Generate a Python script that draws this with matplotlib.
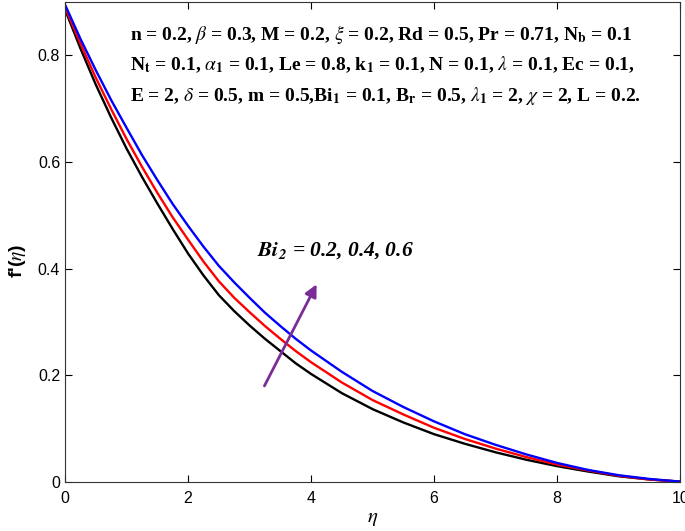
import matplotlib
matplotlib.use('Agg')
import matplotlib.pyplot as plt

# Values
eta = [0, 0.25, 0.5, 0.75, 1, 1.25, 1.5, 1.75, 2, 2.25, 2.5, 2.75, 3, 3.25, 3.5, 3.75, 4,
       4.5, 5, 5.5, 6, 6.5, 7, 7.5, 8, 8.5, 9, 9.5, 10]
f_bi02 = [0.886, 0.813, 0.745, 0.683, 0.625, 0.572, 0.522, 0.474, 0.428, 0.387, 0.350,
          0.320, 0.293, 0.268, 0.245, 0.222, 0.202, 0.166, 0.136,
          0.111, 0.089, 0.071, 0.055, 0.041, 0.029, 0.019, 0.010, 0.004, 0.0]
f_bi04 = [0.890, 0.822, 0.758, 0.699, 0.643, 0.591, 0.542, 0.496, 0.454, 0.413, 0.376,
          0.345, 0.318, 0.292, 0.268, 0.245, 0.224, 0.186, 0.153,
          0.126, 0.101, 0.080, 0.062, 0.046, 0.032, 0.021, 0.011, 0.004, 0.0]
f_bi06 = [0.895, 0.831, 0.772, 0.716, 0.664, 0.613, 0.566, 0.521, 0.480, 0.441, 0.405,
          0.374, 0.345, 0.317, 0.292, 0.268, 0.246, 0.206, 0.170,
          0.140, 0.113, 0.089, 0.069, 0.051, 0.035, 0.022, 0.012, 0.005, 0.0]

param_lines = [
    r'n = 0.2, $\beta$ = 0.3, M = 0.2, $\xi$ = 0.2, Rd = 0.5, Pr = 0.71, N$_{\mathbf{b}}$ = 0.1',
    r'N$_{\mathbf{t}}$ = 0.1, $\alpha_{\mathbf{1}}$ = 0.1, Le = 0.8, k$_{\mathbf{1}}$ = 0.1, N = 0.1, $\lambda$ = 0.1, Ec = 0.1,',
    r'E = 2, $\delta$ = 0.5, m = 0.5,Bi$_{\mathbf{1}}$ = 0.1, B$_{\mathbf{r}}$ = 0.5, $\lambda_{\mathbf{1}}$ = 2, $\chi$ = 2, L = 0.2.',
]

plt.rcParams['mathtext.fontset'] = 'stix'
plt.rcParams['font.family'] = ['Liberation Sans', 'DejaVu Sans']

fig = plt.figure(figsize=(6.85, 5.31), dpi=100)
ax = fig.add_axes([0.095, 0.093, 0.898, 0.903])

ax.plot(eta, f_bi02, color='black', lw=1.7)
ax.plot(eta, f_bi04, color='red', lw=1.7)
ax.plot(eta, f_bi06, color='blue', lw=1.7)

ax.set_xlim(0, 10)
ax.set_ylim(0, 0.9)
ax.set_xticks([0, 2, 4, 6, 8, 10])
ax.set_yticks([0, 0.2, 0.4, 0.6, 0.8])
ax.set_yticklabels(['0', '0.2', '0.4', '0.6', '0.8'])
ax.tick_params(direction='in', top=True, right=True, labelsize=11.5, length=5)
ax.tick_params(axis='x', pad=7)
for s in ax.spines.values():
    s.set_linewidth(0.8)
    s.set_color('#333333')

ax.set_xlabel(r'$\eta$', fontsize=15, labelpad=2)
ax.set_ylabel(r"f'($\eta$)", fontsize=14, fontweight='bold')
ax.yaxis.set_label_coords(-0.06, 0.46)

# Parameter block
for i, line in enumerate(param_lines):
    ax.text(1.06, 0.840 - i * 0.058, line, fontsize=14, fontweight='bold',
            family='Liberation Serif', va='center', ha='left')

# Bi_2 annotation with arrow
ax.annotate('', xy=(4.11, 0.375), xytext=(3.22, 0.175),
            arrowprops=dict(arrowstyle='-|>', color='#7a2d98', lw=2, mutation_scale=18))
ax.text(3.12, 0.433, r'$\mathbfit{Bi}_{\mathbfit{2}}$ = 0.2, 0.4, 0.6', fontsize=15.5,
        fontweight='bold', style='italic', family='Liberation Serif', va='center', ha='left')

fig.savefig('out.png', dpi=100)
